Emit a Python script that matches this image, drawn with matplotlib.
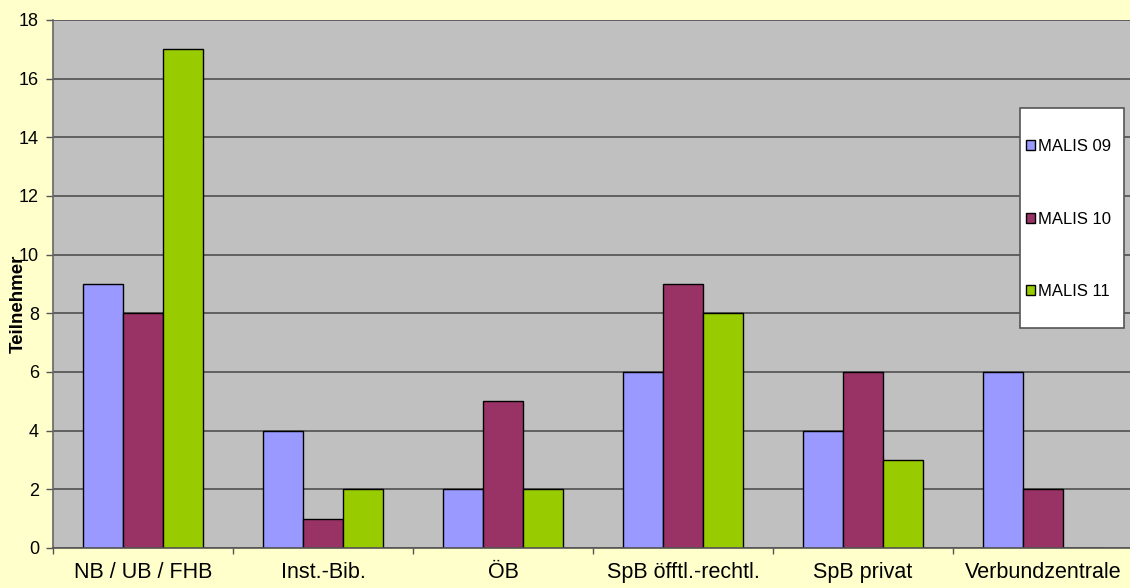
import matplotlib
matplotlib.use("Agg")
import matplotlib.pyplot as plt
from matplotlib.patches import Rectangle
import numpy as np

plt.rcParams['font.family'] = ['Liberation Sans', 'DejaVu Sans']

categories = ["NB / UB / FHB", "Inst.-Bib.", "ÖB", "SpB öfftl.-rechtl.", "SpB privat", "Verbundzentrale"]
series_names = ["MALIS 09", "MALIS 10", "MALIS 11"]
malis09 = [9, 4, 2, 6, 4, 6]
malis10 = [8, 1, 5, 9, 6, 2]
malis11 = [17, 2, 2, 8, 3, 0]
colors = ["#9999FF", "#993366", "#99CC00"]

W, H = 1130, 588
fig = plt.figure(figsize=(W / 100, H / 100), dpi=100)
fig.patch.set_facecolor("#FFFFCC")
left, right, top, bottom = 53, 1130, 20, 548
ax = fig.add_axes([left / W, 1 - bottom / H, (right - left) / W, (bottom - top) / H])
ax.set_facecolor("#C0C0C0")

x = np.arange(len(categories))
bw = 0.222
handles = []
for i, (vals, name) in enumerate(zip([malis09, malis10, malis11], series_names)):
    b = ax.bar(x + (i - 1) * bw, vals, width=bw, color=colors[i], edgecolor="black",
               linewidth=1.0, label=name, zorder=3)
    handles.append(b)

ax.set_ylim(0, 18)
ax.set_xlim(-0.5, 5.5 - 3 / 180)
ax.set_yticks(range(0, 19, 2))
ax.yaxis.grid(True, color="#505050", linewidth=1.2, zorder=1)
ax.set_axisbelow(True)
ax.set_xticks(x)
ax.set_xticklabels(categories, fontsize=15.5)
ax.set_xticks(np.arange(-0.5, 5.5, 1), minor=True)
ax.tick_params(axis='x', which='major', length=0, pad=10)
ax.tick_params(axis='x', which='minor', length=4, color="#555555", direction='out', width=1)
ax.tick_params(axis='y', labelsize=13, length=5, color="#555555", width=1, pad=5)
for s in ["top", "right"]:
    ax.spines[s].set_visible(False)
ax.spines["left"].set_color("#666666")
ax.spines["left"].set_linewidth(1.2)
ax.spines["bottom"].set_color("#555555")
ax.spines["bottom"].set_linewidth(1.2)
ax.spines["left"].set_zorder(4)
ax.spines["bottom"].set_zorder(4)

fig.text(18 / W, 1 - 304 / H, "Teilnehmer", rotation=90, ha="center", va="center",
         fontsize=13.5, fontweight="bold")

# legend box
lx0, ly0, lx1, ly1 = 1020, 108, 1124, 328
fig.patches.append(Rectangle((lx0 / W, 1 - ly1 / H), (lx1 - lx0) / W, (ly1 - ly0) / H,
                             transform=fig.transFigure, facecolor="white",
                             edgecolor="#555555", linewidth=1.2, zorder=5))
leg = fig.legend(handles=handles, labels=series_names, loc="center left",
                 bbox_to_anchor=(1026 / W, 1 - 219 / H), frameon=False,
                 fontsize=12, handlelength=0.55, handleheight=0.55, handletextpad=0.15,
                 labelspacing=3.45, borderpad=0, borderaxespad=0)
leg.set_zorder(6)

fig.savefig("out.png", dpi=100, facecolor=fig.get_facecolor())
